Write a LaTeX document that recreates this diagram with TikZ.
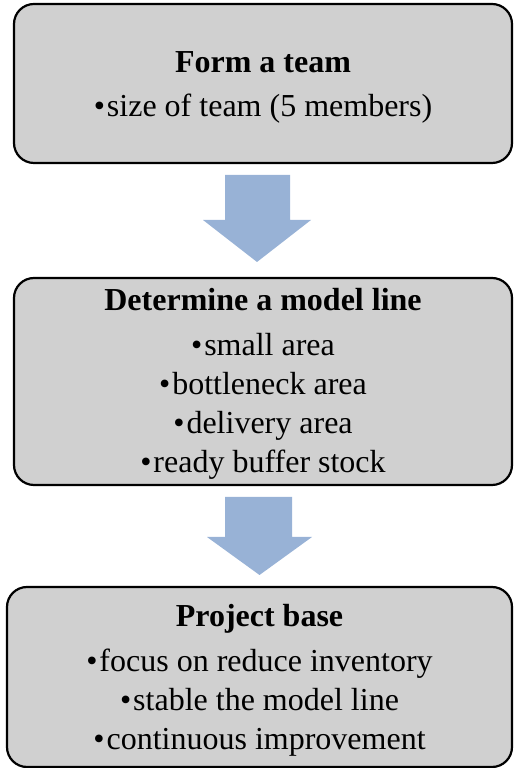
\documentclass[tikz,border=0pt]{standalone}
\usepackage{fontspec}
\setmainfont{Liberation Serif}
\usepackage{xcolor}
\usepackage{tikz}
\usetikzlibrary{calc, positioning}

\definecolor{boxgray}{RGB}{208,208,208}
\definecolor{arrowblue}{RGB}{152,178,214}

\begin{document}
\begin{tikzpicture}[x=1pt, y=1pt,
    stepbox/.style={draw=black, line width=2.2pt, fill=boxgray,
        rounded corners=20pt, align=center, inner sep=0pt,
        font=\fontsize{32}{39}\selectfont},
    blockarrow/.style={fill=arrowblue}]

    % =================================================================
    % 1. KHUNG TRANG
    % =================================================================
    \useasboundingbox (0,0) rectangle (514,768);

    % =================================================================
    % 2. BA HỘP BƯỚC (BO GÓC, NỀN XÁM)
    % =================================================================
    % Bước 1: lập nhóm (rule rỗng đẩy chữ xuống một chút)
    \node[stepbox, minimum width=498, minimum height=159] (team) at (263,684.5)
        {\rule{0pt}{29.5pt}\textbf{Form a team}\\[5pt]
         \textbullet\kern2pt size of team (5 members)};

    % Bước 2: chọn dây chuyền mẫu
    \node[stepbox, minimum width=498, minimum height=207] (model) at (263,386.5)
        {\rule{0pt}{27.5pt}\textbf{Determine a model line}\\[6pt]
         \textbullet\kern2pt small area\\
         \textbullet\kern2pt bottleneck area\\
         \textbullet\kern2pt delivery area\\
         \textbullet\kern2pt ready buffer stock};

    % Bước 3: dự án
    \node[stepbox, minimum width=505, minimum height=180] (project) at (259.5,91)
        {\rule{0pt}{28pt}\textbf{Project base}\\[6pt]
         \textbullet\kern2pt focus on reduce inventory\\
         \textbullet\kern2pt stable the model line\\
         \textbullet\kern2pt continuous improvement};

    % =================================================================
    % 3. MŨI TÊN KHỐI GIỮA CÁC HỘP
    % =================================================================
    % Mũi tên từ hộp 1 xuống hộp 2
    \coordinate (TipA) at (257,506);
    \fill[blockarrow] (225,593) -- (290,593) -- (290,548) -- (311,548)
        -- (TipA) -- (203,548) -- (225,548) -- cycle;

    % Mũi tên từ hộp 2 xuống hộp 3
    \coordinate (TipB) at (259.5,193);
    \fill[blockarrow] (225,271) -- (292,271) -- (292,231) -- (312,231)
        -- (TipB) -- (207,231) -- (225,231) -- cycle;

\end{tikzpicture}
\end{document}
